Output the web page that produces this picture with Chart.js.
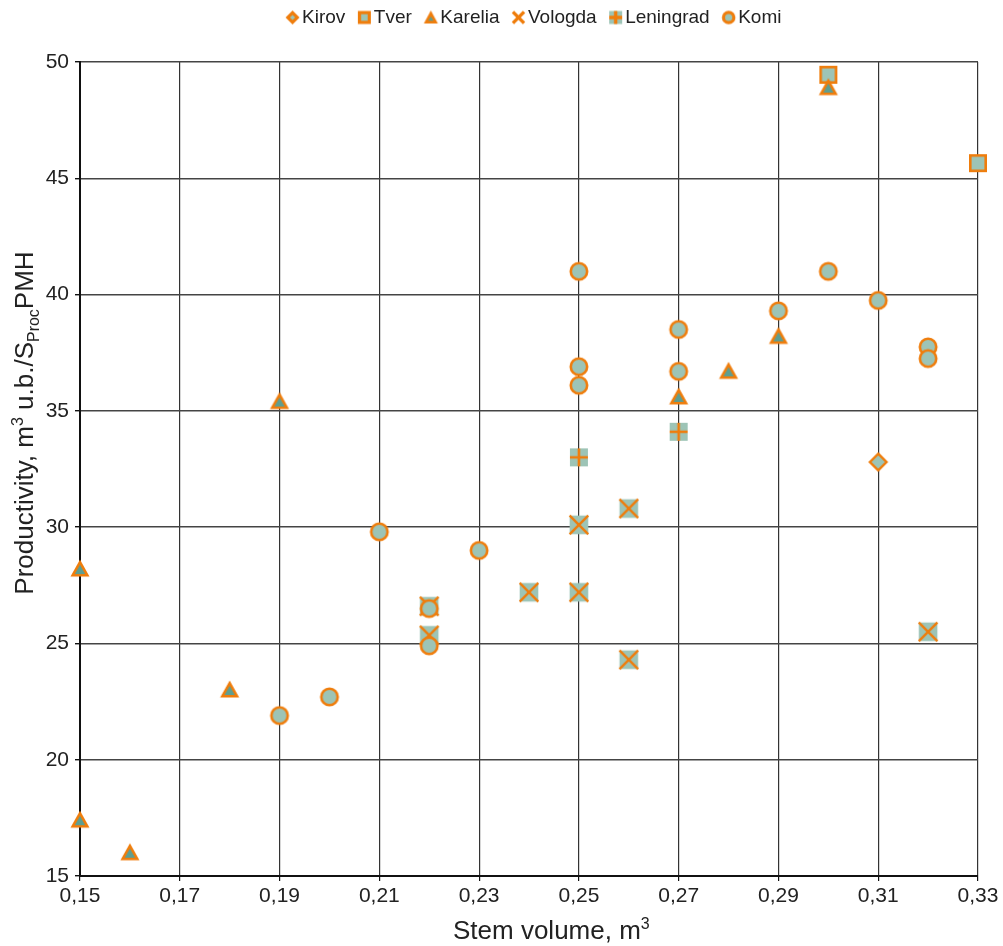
<!DOCTYPE html>
<html><head><meta charset="utf-8">
<script src="https://cdn.jsdelivr.net/npm/chart.js@4.4.1/dist/chart.umd.min.js"></script>
<style>html,body{margin:0;padding:0;background:#fff}#wrap{width:1003px;height:946px}</style>
</head><body><div id="wrap"><canvas id="c" width="1003" height="946"></canvas></div>
<script>
// ---- data ----
const seriesNames = ['Kirov','Tver','Karelia','Vologda','Leningrad','Komi'];
const kirovX = [0.31];
const kirovY = [32.8];
const tverX = [0.30, 0.33];
const tverY = [49.45, 45.65];
const kareliaX = [0.15, 0.15, 0.16, 0.18, 0.19, 0.27, 0.28, 0.29, 0.30];
const kareliaY = [28.2, 17.4, 16.0, 23.0, 35.4, 35.6, 36.7, 38.2, 48.9];
const vologdaX = [0.22, 0.22, 0.24, 0.25, 0.25, 0.26, 0.26, 0.32];
const vologdaY = [26.6, 25.35, 27.2, 30.1, 27.2, 30.8, 24.3, 25.5];
const leningradX = [0.25, 0.27];
const leningradY = [33.0, 34.1];
const komiX = [0.19, 0.20, 0.21, 0.22, 0.22, 0.23, 0.25, 0.25, 0.25, 0.27, 0.27, 0.29, 0.30, 0.31, 0.32, 0.32];
const komiY = [21.9, 22.7, 29.8, 26.5, 24.9, 29.0, 41.0, 36.9, 36.1, 38.5, 36.7, 39.3, 41.0, 39.75, 37.75, 37.25];
const xTicks = [0.15, 0.17, 0.19, 0.21, 0.23, 0.25, 0.27, 0.29, 0.31, 0.33];
const yTicks = [15, 20, 25, 30, 35, 40, 45, 50];

const ORANGE = '#EF7D0C';
const TEAL = '#9DC4B6';
const TEAL_DARK = '#5E9E91';
const FONT = "'Liberation Sans', Arial, sans-serif";

function canvasOf(w, h, cx, cy, draw) {
  const c = document.createElement('canvas');
  c.width = w; c.height = h;
  const g = c.getContext('2d');
  draw(g, cx, cy);
  return c;
}
const plotCanvas = draw => canvasOf(24, 24, 12, 12, draw);
const legendCanvas = draw => canvasOf(30, 18, 20.5, 9, draw);

// plot markers
const mCircle = plotCanvas((g, x, y) => { g.beginPath(); g.arc(x, y, 8.2, 0, Math.PI*2); g.fillStyle = TEAL; g.fill(); g.lineWidth = 2.6; g.strokeStyle = ORANGE; g.stroke(); });
const mDiamond = plotCanvas((g, x, y) => { const r = 8.3; g.beginPath(); g.moveTo(x, y-r); g.lineTo(x+r, y); g.lineTo(x, y+r); g.lineTo(x-r, y); g.closePath(); g.fillStyle = TEAL; g.fill(); g.lineWidth = 2.4; g.strokeStyle = ORANGE; g.stroke(); });
const mSquare = plotCanvas((g, x, y) => { const h = 7.7; g.fillStyle = TEAL; g.fillRect(x-h, y-h, 2*h, 2*h); g.lineWidth = 2.6; g.strokeStyle = ORANGE; g.strokeRect(x-h, y-h, 2*h, 2*h); });
const mTriangle = plotCanvas((g, x, y) => { g.beginPath(); g.moveTo(x, y-6.8); g.lineTo(x+7.3, y+6.2); g.lineTo(x-7.3, y+6.2); g.closePath(); g.fillStyle = TEAL_DARK; g.fill(); g.lineWidth = 2.6; g.strokeStyle = ORANGE; g.stroke(); });
const mCross = plotCanvas((g, x, y) => { const h = 9.3; g.fillStyle = TEAL; g.fillRect(x-h, y-h, 2*h, 2*h); g.beginPath(); g.moveTo(x-h, y-h); g.lineTo(x+h, y+h); g.moveTo(x+h, y-h); g.lineTo(x-h, y+h); g.lineWidth = 2.4; g.strokeStyle = ORANGE; g.stroke(); });
const mPlus = plotCanvas((g, x, y) => { const h = 9; g.fillStyle = TEAL; g.fillRect(x-h, y-h, 2*h, 2*h); g.beginPath(); g.moveTo(x-h, y); g.lineTo(x+h, y); g.moveTo(x, y-h); g.lineTo(x, y+h); g.lineWidth = 2.6; g.strokeStyle = ORANGE; g.stroke(); });
// legend markers
const lDiamond = legendCanvas((g, x, y) => { let r = 7; g.beginPath(); g.moveTo(x, y-r); g.lineTo(x+r, y); g.lineTo(x, y+r); g.lineTo(x-r, y); g.closePath(); g.fillStyle = ORANGE; g.fill(); r = 2.6; g.beginPath(); g.moveTo(x, y-r); g.lineTo(x+r, y); g.lineTo(x, y+r); g.lineTo(x-r, y); g.closePath(); g.fillStyle = TEAL; g.fill(); });
const lSquare = legendCanvas((g, x, y) => { g.fillStyle = ORANGE; g.fillRect(x-6.5, y-6.5, 13, 13); g.fillStyle = TEAL; g.fillRect(x-3.3, y-3.3, 6.6, 6.6); });
const lTriangle = legendCanvas((g, x, y) => { g.beginPath(); g.moveTo(x, y-7); g.lineTo(x+7, y+6); g.lineTo(x-7, y+6); g.closePath(); g.fillStyle = ORANGE; g.fill(); g.beginPath(); g.moveTo(x, y-1); g.lineTo(x+2.6, y+3.3); g.lineTo(x-2.6, y+3.3); g.closePath(); g.fillStyle = TEAL_DARK; g.fill(); });
const lCross = legendCanvas((g, x, y) => { const h = 5.6; g.beginPath(); g.moveTo(x-h, y-h); g.lineTo(x+h, y+h); g.moveTo(x+h, y-h); g.lineTo(x-h, y+h); g.lineWidth = 3.4; g.strokeStyle = ORANGE; g.stroke(); });
const lPlus = legendCanvas((g, x, y) => { const h = 6.5; g.fillStyle = TEAL; g.fillRect(x-h, y-h, 2*h, 2*h); g.beginPath(); g.moveTo(x-h, y); g.lineTo(x+h, y); g.moveTo(x, y-h); g.lineTo(x, y+h); g.lineWidth = 3.4; g.strokeStyle = ORANGE; g.stroke(); });
const lCircle = legendCanvas((g, x, y) => { g.beginPath(); g.arc(x, y, 5.2, 0, Math.PI*2); g.fillStyle = TEAL; g.fill(); g.lineWidth = 3.2; g.strokeStyle = ORANGE; g.stroke(); });

function pts(xs, ys) { return xs.map((x, i) => ({x, y: ys[i]})); }
const plotMarkers = [mDiamond, mSquare, mTriangle, mCross, mPlus, mCircle];
const legendMarkers = [lDiamond, lSquare, lTriangle, lCross, lPlus, lCircle];
const seriesData = [pts(kirovX, kirovY), pts(tverX, tverY), pts(kareliaX, kareliaY), pts(vologdaX, vologdaY), pts(leningradX, leningradY), pts(komiX, komiY)];

const datasets = seriesNames.map((name, i) => ({
  label: name,
  data: seriesData[i],
  pointStyle: plotMarkers[i],
  pointRadius: 10,
  pointHoverRadius: 10,
  backgroundColor: TEAL,
  borderColor: ORANGE,
  showLine: false,
  clip: false,
  order: seriesNames.length - i
}));

function drawSegments(ctx, segs, anchorX, baseline, align) {
  let total = 0;
  segs.forEach(s => { ctx.font = s.size + 'px ' + FONT; s.w = ctx.measureText(s.t).width; total += s.w; });
  let x = align === 'center' ? anchorX - total / 2 : anchorX;
  ctx.textAlign = 'left';
  ctx.textBaseline = 'alphabetic';
  segs.forEach(s => { ctx.font = s.size + 'px ' + FONT; ctx.fillText(s.t, x, baseline + (s.dy || 0)); x += s.w; });
}

const axisTitles = {
  id: 'axisTitles',
  afterDraw(chart) {
    const ctx = chart.ctx;
    ctx.save();
    ctx.fillStyle = '#222';
    drawSegments(ctx, [
      {t: 'Stem volume, m', size: 26},
      {t: '3', size: 16, dy: -10}
    ], 453, 939, 'left');
    ctx.translate(33, 423);
    ctx.rotate(-Math.PI / 2);
    drawSegments(ctx, [
      {t: 'Productivity, m', size: 26},
      {t: '3', size: 16, dy: -10},
      {t: ' u.b./S', size: 26},
      {t: 'Proc', size: 16, dy: 6},
      {t: 'PMH', size: 26}
    ], 0, 0, 'center');
    ctx.restore();
  }
};

// keeps the legend band at a fixed height and centres it over the plot like the original
const legendBand = {
  id: 'legendBand',
  beforeLayout(chart) {
    const lg = chart.legend;
    if (lg && !lg._bandPatched) {
      const fit = lg.fit;
      lg.fit = function () { fit.apply(this, arguments); this.height = 62; };
      lg._bandPatched = true;
    }
  },
  afterLayout(chart) {
    const lg = chart.legend;
    if (lg) { lg.left = 60; lg.right = 1003; }
  }
};

new Chart(document.getElementById('c'), {
  type: 'scatter',
  data: { datasets },
  options: {
    responsive: false,
    animation: false,
    events: [],
    layout: { padding: { top: 0, right: 0, bottom: 0, left: 0 } },
    plugins: {
      tooltip: { enabled: false },
      legend: {
        position: 'top',
        labels: {
          usePointStyle: true,
          boxWidth: 11,
          boxHeight: 11,
          padding: 8,
          color: '#222',
          font: { size: 19, family: FONT },
          sort: (a, b) => a.datasetIndex - b.datasetIndex,
          generateLabels(chart) {
            const items = Chart.defaults.plugins.legend.labels.generateLabels(chart);
            items.forEach(it => { it.pointStyle = legendMarkers[it.datasetIndex]; });
            return items;
          }
        }
      }
    },
    scales: {
      x: {
        type: 'linear',
        min: 0.15, max: 0.33,
        afterFit(s) { s.height = 70; },
        afterBuildTicks(s) { s.ticks = xTicks.map(v => ({value: v})); },
        ticks: {
          color: '#222',
          font: { size: 21, family: FONT },
          padding: 3,
          maxRotation: 0,
          callback: v => Number(v).toFixed(2).replace('.', ',')
        },
        grid: { color: '#333', lineWidth: 1.2, tickLength: 5, tickColor: '#111' },
        border: { color: '#111', width: 2 }
      },
      y: {
        type: 'linear',
        min: 15, max: 50,
        afterFit(s) { s.width = 80; },
        afterBuildTicks(s) { s.ticks = yTicks.map(v => ({value: v})); },
        ticks: {
          color: '#222',
          font: { size: 21, family: FONT },
          padding: 6,
          callback: v => String(v)
        },
        grid: { color: '#444', lineWidth: 1.4, tickLength: 5, tickColor: '#111' },
        border: { color: '#111', width: 2 }
      },
      rightGap: {
        type: 'linear',
        position: 'right',
        afterFit(s) { s.width = 25; },
        grid: { display: false },
        ticks: { display: false },
        border: { display: false }
      }
    }
  },
  plugins: [axisTitles, legendBand]
});
</script>
</body></html>
